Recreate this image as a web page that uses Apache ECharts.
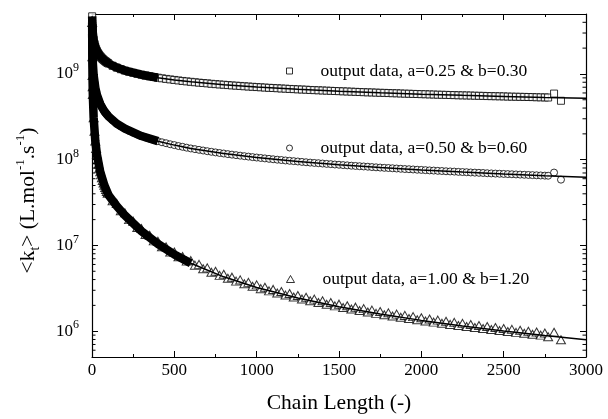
<!DOCTYPE html>
<html><head><meta charset="utf-8">
<script src="https://cdn.jsdelivr.net/npm/echarts@6/dist/echarts.min.js"></script>
<style>html,body{margin:0;padding:0;background:#fff}#c{width:608px;height:419px}</style>
</head><body><div id="c"></div>
<script>
// ---- data (y values stored as log10 of <kt>) ----
const seriesNames = ['output data, a=0.25 & b=0.30', 'output data, a=0.50 & b=0.60', 'output data, a=1.00 & b=1.20'];

const chainLength = [1,2,3,4,5,10,15,20,25,30,35,40,45,50,55,60,65,70,75,80,85,90,95,
100,125,150,175,200,225,250,275,300,325,350,375,400,425,450,475,500,525,550,575,600,625,650,675,700,725,750,775,800,825,850,875,900,925,950,975,
1000,1025,1050,1075,1100,1125,1150,1175,1200,1225,1250,1275,1300,1325,1350,1375,1400,1425,1450,1475,1500,1525,1550,1575,1600,1625,1650,1675,1700,1725,1750,1775,1800,1825,1850,1875,1900,1925,1950,1975,
2000,2025,2050,2075,2100,2125,2150,2175,2200,2225,2250,2275,2300,2325,2350,2375,2400,2425,2450,2475,2500,2525,2550,2575,2600,2625,2650,2675,2700,2725,2750,2770,2806,2848];

const squaresLog10 = [9.672,9.589,9.541,9.506,9.480,9.397,9.349,9.314,9.288,9.266,9.247,9.231,9.217,9.205,9.194,9.183,9.173,9.165,9.156,9.149,9.142,9.135,9.128,
9.122,9.095,9.074,9.055,9.039,9.025,9.013,9.001,8.991,8.981,
8.972,8.964,8.956,8.949,8.942,8.936,8.930,8.924,8.918,8.913,
8.908,8.903,8.898,8.894,8.890,8.885,8.881,8.877,8.874,8.870,
8.866,8.863,8.860,8.856,8.853,8.850,8.847,8.844,8.841,8.838,
8.836,8.833,8.830,8.828,8.825,8.823,8.820,8.818,8.816,8.813,
8.811,8.809,8.807,8.805,8.803,8.801,8.799,8.797,8.795,8.793,
8.791,8.789,8.787,8.785,8.784,8.782,8.780,8.779,8.777,8.775,
8.774,8.772,8.770,8.769,8.767,8.766,8.764,8.763,8.761,8.760,
8.758,8.757,8.756,8.754,8.753,8.751,8.750,8.749,8.748,8.746,
8.745,8.744,8.742,8.741,8.740,8.739,8.738,8.736,8.735,8.734,
8.733,8.732,8.731,8.730,8.728,8.727,8.726,
8.725,8.771,8.687];

const circlesLog10 = [9.465,9.321,9.236,9.176,9.129,8.985,8.901,8.840,8.794,8.756,8.724,8.696,8.672,8.649,8.630,8.612,8.595,8.579,8.565,8.551,8.539,8.527,8.516,
8.505,8.459,8.420,8.388,8.361,8.336,8.314,8.294,8.276,8.259,
8.244,8.230,8.216,8.203,8.192,8.180,8.170,8.159,8.150,8.140,
8.131,8.123,8.115,8.107,8.099,8.092,8.085,8.078,8.072,8.065,
8.059,8.053,8.047,8.041,8.036,8.030,8.025,8.020,8.015,8.010,
8.005,8.000,7.996,7.991,7.987,7.983,7.979,7.974,7.970,7.966,
7.962,7.959,7.955,7.951,7.948,7.944,7.941,7.937,7.934,7.930,
7.927,7.924,7.921,7.918,7.914,7.911,7.908,7.905,7.903,7.900,
7.897,7.894,7.891,7.889,7.886,7.883,7.881,7.878,7.875,7.873,
7.870,7.868,7.865,7.863,7.861,7.858,7.856,7.854,7.851,7.849,
7.847,7.845,7.842,7.840,7.838,7.836,7.834,7.832,7.830,7.828,
7.826,7.824,7.822,7.820,7.818,7.816,7.814,
7.813,7.850,7.767];

const trianglesLog10 = [9.60,9.20,8.98,8.85,8.760,8.489,8.331,8.218,8.131,8.060,7.999,7.947,7.901,7.860,7.823,7.789,7.757,7.729,7.702,7.676,7.653,7.630,7.609,
7.619,7.522,7.490,7.404,7.380,7.301,7.283,7.210,7.197,7.127,
7.119,7.053,7.048,6.984,6.983,6.923,6.924,6.867,6.871,6.817,
6.823,6.770,6.779,6.728,6.738,6.688,6.699,6.651,6.664,6.617,
6.630,6.584,6.598,6.553,6.569,6.524,6.540,6.496,6.513,6.470,
6.487,6.445,6.463,6.421,6.439,6.398,6.416,6.375,6.395,6.354,
6.374,6.334,6.354,6.314,6.334,6.295,6.315,6.276,6.297,6.258,
6.280,6.241,6.263,6.224,6.246,6.208,6.230,6.192,6.214,6.177,
6.199,6.162,6.184,6.147,6.170,6.133,6.156,6.119,6.142,6.106,
6.129,6.092,6.116,6.079,6.103,6.067,6.091,6.054,6.078,6.042,
6.066,6.031,6.055,6.019,6.043,6.008,6.032,5.997,6.021,5.986,
6.010,5.975,6.000,5.965,5.990,5.954,5.979,
5.935,5.988,5.900];

// fitted model curves (solid lines)
const fitChainLength = [1,2,3,5,10,20,30,50,75,100,150,200,300,400,500,600,800,1000,1250,1500,1750,2000,2250,2500,2750,3000];
const fit1Log10 = [9.672,9.589,9.541,9.480,9.397,9.314,9.266,9.205,9.156,9.122,9.074,9.039,8.991,8.956,8.930,8.908,8.874,8.847,8.820,8.799,8.780,8.764,8.750,8.738,8.726,8.716];
const fit2Log10 = [9.465,9.321,9.236,9.129,8.985,8.840,8.756,8.649,8.565,8.505,8.420,8.361,8.276,8.216,8.170,8.131,8.072,8.025,7.979,7.941,7.908,7.881,7.856,7.834,7.814,7.796];
const fit3Log10 = [9.60,9.20,8.98,8.76,8.489,8.218,8.060,7.860,7.702,7.589,7.460,7.350,7.167,7.018,6.894,6.793,6.634,6.510,6.386,6.285,6.200,6.126,6.061,6.002,5.949,5.901];
// chain length up to which the markers overlap into a solid band
const denseLimit = [400, 400, 600];

const yMinorTickValues = [6e5,7e5,8e5,9e5,2e6,3e6,4e6,5e6,6e6,7e6,8e6,9e6,2e7,3e7,4e7,5e7,6e7,7e7,8e7,9e7,
2e8,3e8,4e8,5e8,6e8,7e8,8e8,9e8,2e9,3e9,4e9];

// ---- build ----
const FONT = '"Liberation Serif", "Times New Roman", serif';
function pts(xs, logs, limit) {
  const out = [];
  for (let i = 0; i < xs.length && i < logs.length; i++) {
    if (limit !== undefined && xs[i] > limit) continue;
    out.push([xs[i], Math.pow(10, logs[i])]);
  }
  return out;
}
const markerLogs = [squaresLog10, circlesLog10, trianglesLog10];
const fitLogs = [fit1Log10, fit2Log10, fit3Log10];
const symbols = ['rect', 'circle', 'triangle'];
const symbolSizes = [7, 7, [9, 8]];

const series = [];
for (let k = 0; k < 3; k++) {
  series.push({
    name: seriesNames[k], type: 'scatter', data: pts(chainLength, markerLogs[k]),
    symbol: symbols[k], symbolSize: symbolSizes[k], z: 2,
    itemStyle: { color: '#fff', borderColor: '#000', borderWidth: 1 },
    emphasis: { disabled: true }
  });
}
for (let k = 0; k < 3; k++) {
  series.push({
    name: 'band' + k, type: 'line', data: pts(fitChainLength, fitLogs[k], denseLimit[k]),
    showSymbol: false, symbol: 'none', z: 3, silent: true,
    lineStyle: { color: '#000', width: 8.5 }
  });
  series.push({
    name: 'fit' + k, type: 'line', data: pts(fitChainLength, fitLogs[k]),
    showSymbol: false, symbol: 'none', z: 4, silent: true,
    lineStyle: { color: '#000', width: 1.5 }
  });
}
series.push({
  type: 'custom', silent: true, z: 5, clip: false,
  data: yMinorTickValues.map(v => [0, v]),
  renderItem: function (params, api) {
    const cs = params.coordSys;
    const y = api.coord([0, api.value(1)])[1];
    return { type: 'group', children: [
      { type: 'line', shape: { x1: cs.x, y1: y, x2: cs.x + 3.5, y2: y }, style: { stroke: '#000', lineWidth: 1 } },
      { type: 'line', shape: { x1: cs.x + cs.width - 3.5, y1: y, x2: cs.x + cs.width, y2: y }, style: { stroke: '#000', lineWidth: 1 } }
    ] };
  }
});

const axisLine = { show: true, onZero: false, lineStyle: { color: '#000', width: 1.2 } };
function xAx(pos, labels) {
  return {
    type: 'value', min: 0, max: 3000, interval: 500, position: pos,
    axisLine: axisLine,
    axisTick: { show: true, inside: true, length: 6, lineStyle: { color: '#000', width: 1 } },
    minorTick: { show: true, splitNumber: 2, length: 3, lineStyle: { color: '#000', width: 1 } },
    splitLine: { show: false }, minorSplitLine: { show: false },
    axisLabel: { show: labels, color: '#000', fontFamily: FONT, fontSize: 17, margin: 5,
      formatter: function (v) { return String(v); } },
    name: labels ? 'Chain Length (-)' : '', nameLocation: 'middle', nameGap: 35,
    nameTextStyle: { color: '#000', fontFamily: FONT, fontSize: 21.5 }
  };
}
function yAx(pos, labels) {
  return {
    type: 'log', logBase: 10, min: 5e5, max: 5e9, position: pos,
    axisLine: axisLine,
    axisTick: { show: true, inside: true, length: 6, lineStyle: { color: '#000', width: 1 } },
    minorTick: { show: false },
    splitLine: { show: false }, minorSplitLine: { show: false },
    axisLabel: {
      show: labels, margin: 13, color: '#000',
      formatter: function (v) {
        const l = Math.log10(v); const e = Math.round(l);
        if (Math.abs(l - e) > 1e-6) return '';
        return '{b|10}{s|' + e + '}';
      },
      rich: {
        b: { fontFamily: FONT, fontSize: 17, color: '#000' },
        s: { fontFamily: FONT, fontSize: 12, color: '#000', padding: [0, 0, 12, 0] }
      }
    },
    name: labels ? '{n|<k}{sub|t}{n|> (L.mol}{sup|-1}{n|.s}{sup|-1}{n|)}' : '',
    nameLocation: 'middle', nameRotate: 90, nameGap: 50,
    nameTextStyle: {
      padding: [0, 30, 0, 0],
      rich: {
        n: { fontFamily: FONT, fontSize: 21.5, color: '#000' },
        sub: { fontFamily: FONT, fontSize: 14, color: '#000', padding: [14, 0, 0, 0] },
        sup: { fontFamily: FONT, fontSize: 13, color: '#000', padding: [0, 0, 14, 0] }
      }
    }
  };
}

function legendAt(name, icon, top, w, h) {
  return {
    data: [{ name: name, icon: icon }], left: 286, top: top, padding: 0, orient: 'horizontal',
    itemWidth: w, itemHeight: h, selectedMode: false,
    itemStyle: { color: '#fff', borderColor: '#000', borderWidth: 1 },
    textStyle: { fontFamily: FONT, fontSize: 17.5, color: '#000', padding: [0, 0, 0, 23] }
  };
}

const chart = echarts.init(document.getElementById('c'), null, { renderer: 'canvas' });
chart.setOption({
  backgroundColor: '#fff',
  animation: false,
  grid: { left: 92, right: 22, top: 14, bottom: 62, containLabel: false },
  xAxis: [xAx('bottom', true), xAx('top', false)],
  yAxis: [yAx('left', true), yAx('right', false)],
  legend: [
    legendAt(seriesNames[0], 'rect', 62, 6, 6),
    legendAt(seriesNames[1], 'circle', 139, 6, 6),
    legendAt(seriesNames[2], 'triangle', 270, 8, 7)
  ],
  series: series
});
</script></body></html>
